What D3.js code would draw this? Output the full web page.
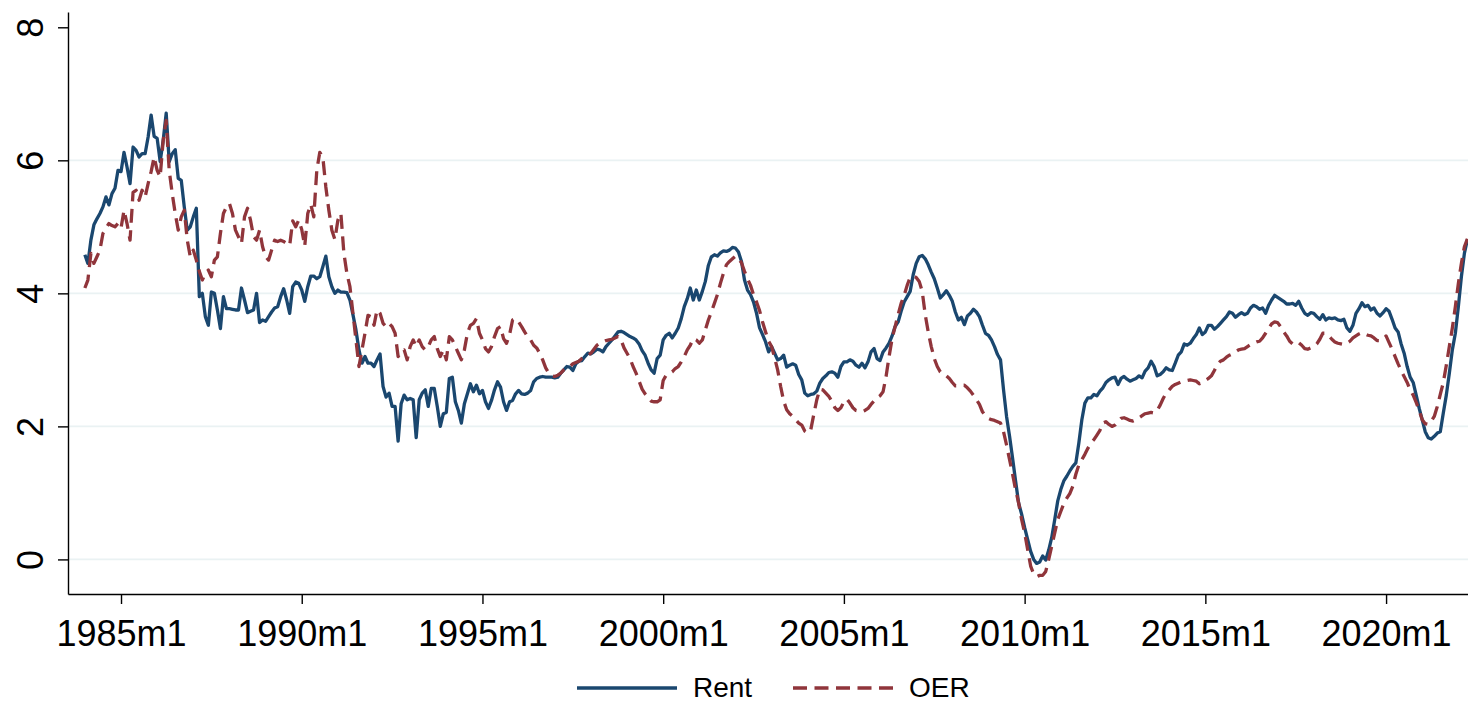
<!DOCTYPE html>
<html>
<head>
<meta charset="utf-8">
<script src="https://cdn.jsdelivr.net/npm/d3@7"></script>
<style>
  html, body { margin: 0; padding: 0; background: #fff; }
  svg { display: block; font-family: 'Liberation Sans', Arial, sans-serif; }
</style>
</head>
<body>
<svg id="chart" width="1468" height="702"></svg>
<script>
// monthly series, first value is 1984m1
const startYear = 1984

const rent = [
  4.58, 4.45, 4.8, 5.03, 5.12, 5.2, 5.3, 5.45, 5.33, 5.5, 5.58, 5.85,
  5.83, 6.12, 5.9, 5.65, 6.2, 6.15, 6.05, 6.1, 6.1, 6.35, 6.68, 6.36,
  6.33, 5.98, 6.3, 6.71, 5.98, 6.1, 6.16, 5.73, 5.7, 5.3, 4.95, 5.0,
  5.15, 5.28, 3.95, 4.0, 3.65, 3.52, 4.02, 4.0, 3.75, 3.47, 3.95, 3.77,
  3.77, 3.76, 3.75, 3.75, 4.08, 3.9, 3.71, 3.73, 3.75, 4.0, 3.56, 3.6,
  3.58, 3.65, 3.72, 3.78, 3.8, 3.95, 4.07, 3.9, 3.7, 4.1, 4.17, 4.15,
  4.05, 3.88, 4.1, 4.26, 4.26, 4.22, 4.25, 4.4, 4.56, 4.25, 4.1, 4.0,
  4.05, 4.02, 4.02, 4.01, 3.9, 3.68, 3.45, 3.15, 2.95, 3.05, 2.95, 2.95,
  2.9, 3.0, 3.09, 2.6, 2.44, 2.5, 2.3, 2.3, 1.78, 2.34, 2.47, 2.4,
  2.42, 2.4, 1.83, 2.4, 2.5, 2.55, 2.3, 2.57, 2.57, 2.3, 2.0, 2.19,
  2.21, 2.72, 2.74, 2.37, 2.24, 2.05, 2.34, 2.49, 2.64, 2.52, 2.62, 2.49,
  2.54, 2.37, 2.27, 2.39, 2.55, 2.67, 2.59, 2.37, 2.24, 2.37, 2.39, 2.49,
  2.54, 2.49, 2.48, 2.5, 2.54, 2.67, 2.72, 2.74, 2.75, 2.74, 2.74, 2.74,
  2.73, 2.74, 2.8, 2.85, 2.9, 2.89, 2.84, 2.94, 2.98, 2.99, 3.05, 3.1,
  3.09, 3.12, 3.16, 3.15, 3.12, 3.2, 3.25, 3.3, 3.36, 3.42, 3.43, 3.41,
  3.38, 3.35, 3.33, 3.3, 3.24, 3.14, 3.07, 2.95, 2.85, 2.8, 3.02, 3.07,
  3.3, 3.37, 3.4, 3.33, 3.4, 3.48, 3.62, 3.8, 3.92, 4.08, 3.9, 4.05,
  3.9, 4.03, 4.18, 4.42, 4.55, 4.58, 4.56, 4.61, 4.64, 4.63, 4.65, 4.69,
  4.68, 4.62, 4.48, 4.2, 4.05, 3.98, 3.87, 3.7, 3.48, 3.38, 3.27, 3.12,
  3.2, 3.1, 3.0, 3.02, 3.07, 2.89, 2.92, 2.94, 2.92, 2.78, 2.7, 2.5,
  2.46, 2.48, 2.49, 2.53, 2.65, 2.72, 2.76, 2.81, 2.82, 2.8, 2.74, 2.9,
  2.97, 2.97, 3.0, 2.98, 2.92, 2.89, 2.95, 2.88, 2.97, 3.12, 3.17, 3.02,
  2.99, 3.12, 3.18, 3.25, 3.36, 3.5, 3.57, 3.73, 3.87, 3.95, 4.03, 4.28,
  4.45, 4.55, 4.57, 4.52, 4.43, 4.32, 4.22, 4.08, 3.93, 3.98, 4.04, 3.97,
  3.88, 3.72, 3.6, 3.64, 3.53, 3.66, 3.7, 3.76, 3.72, 3.65, 3.52, 3.4,
  3.37, 3.3, 3.2, 3.08, 3.0, 2.55, 2.15, 1.85, 1.52, 1.18, 0.85, 0.68,
  0.48, 0.3, 0.12, 0.0, -0.06, -0.04, 0.05, -0.01, 0.14, 0.33, 0.6, 0.88,
  1.05, 1.18, 1.25, 1.33, 1.4, 1.45, 1.75, 2.1, 2.35, 2.43, 2.43, 2.48,
  2.46, 2.53, 2.58, 2.66, 2.7, 2.73, 2.74, 2.63, 2.72, 2.75, 2.71, 2.68,
  2.7, 2.72, 2.76, 2.73, 2.83, 2.88, 2.98, 2.9, 2.76, 2.78, 2.82, 2.88,
  2.85, 2.84, 2.95, 3.07, 3.12, 3.24, 3.22, 3.25, 3.32, 3.38, 3.48, 3.38,
  3.42, 3.52, 3.52, 3.46, 3.5, 3.55, 3.6, 3.65, 3.72, 3.7, 3.64, 3.68,
  3.71, 3.68, 3.7, 3.78, 3.82, 3.8, 3.76, 3.78, 3.7, 3.82, 3.9, 3.97,
  3.94, 3.91, 3.88, 3.84, 3.84, 3.85, 3.82, 3.88, 3.78, 3.7, 3.67, 3.71,
  3.7, 3.65, 3.61, 3.68, 3.6, 3.63, 3.62, 3.63, 3.6, 3.59, 3.61, 3.48,
  3.43, 3.52, 3.7, 3.77, 3.86, 3.8, 3.82, 3.75, 3.78, 3.7, 3.66, 3.71,
  3.77, 3.73, 3.61, 3.48, 3.42, 3.24, 3.1, 2.9, 2.74, 2.66, 2.47, 2.27,
  2.1, 1.92, 1.83, 1.81, 1.85, 1.9, 1.92, 2.2, 2.47, 2.8, 3.15, 3.4,
  3.8, 4.25, 4.6, 4.81
]

const oer = [
  4.08, 4.2, 4.6, 4.45, 4.55, 4.65, 4.9, 4.98, 5.05, 5.02, 5.0, 5.05,
  4.98, 5.25, 5.05, 4.8, 5.52, 5.55, 5.4, 5.55, 5.45, 5.65, 5.83, 6.05,
  5.85, 5.75, 6.3, 6.6, 5.85, 5.5, 5.2, 4.95, 5.15, 5.25, 4.8, 4.55,
  4.65, 4.5, 4.33, 4.2, 4.3, 4.35, 4.25, 4.5, 4.55, 4.9, 5.2, 5.3,
  5.35, 5.2, 4.95, 4.85, 4.75, 5.15, 5.28, 5.1, 4.85, 4.8, 4.95, 4.7,
  4.55, 4.5, 4.65, 4.8, 4.78, 4.8, 4.78, 4.75, 4.72, 5.09, 5.0, 5.1,
  4.96, 4.71, 5.2, 5.34, 5.15, 5.85, 6.12, 6.05, 5.6, 5.25, 4.95, 4.81,
  5.1, 5.2, 4.6, 4.3, 4.1, 3.7, 3.3, 2.9, 3.15, 3.4, 3.67, 3.65,
  3.52, 3.75, 3.7, 3.55, 3.5, 3.55, 3.5, 3.4, 3.05, 3.12, 3.15, 3.0,
  3.2, 3.3, 3.2, 3.3, 3.2, 3.15, 3.2, 3.3, 3.35, 3.17, 3.05, 3.15,
  3.0, 3.35, 3.3, 3.2, 3.1, 3.0, 3.15, 3.4, 3.52, 3.55, 3.62, 3.4,
  3.3, 3.17, 3.12, 3.2, 3.35, 3.47, 3.5, 3.32, 3.25, 3.38, 3.6, 3.62,
  3.57, 3.5, 3.42, 3.35, 3.3, 3.22, 3.18, 3.1, 3.0, 2.88, 2.8, 2.76,
  2.75, 2.77, 2.8, 2.85, 2.88, 2.9, 2.94, 2.96, 2.98, 3.02, 3.04, 3.07,
  3.1, 3.16, 3.22, 3.25, 3.27, 3.29, 3.3, 3.31, 3.33, 3.35, 3.3, 3.18,
  3.1, 3.02, 2.9, 2.8, 2.68, 2.56, 2.49, 2.44, 2.38, 2.37, 2.37, 2.4,
  2.69, 2.77, 2.79, 2.82, 2.87, 2.9, 2.97, 3.05, 3.15, 3.22, 3.32, 3.3,
  3.25, 3.3, 3.45, 3.6, 3.72, 3.85, 3.98, 4.15, 4.3, 4.43, 4.48, 4.52,
  4.56, 4.52, 4.46, 4.33, 4.22, 4.12, 3.98, 3.87, 3.74, 3.57, 3.42, 3.28,
  3.2, 3.03, 2.85, 2.6, 2.38, 2.25, 2.19, 2.15, 2.1, 2.05, 2.02, 1.93,
  1.9, 1.95, 2.18, 2.4, 2.56, 2.55, 2.5, 2.45, 2.38, 2.28, 2.24, 2.28,
  2.37, 2.41, 2.35, 2.28, 2.24, 2.23, 2.22, 2.24, 2.27, 2.33, 2.38, 2.43,
  2.46, 2.52, 2.75, 3.05, 3.32, 3.5, 3.68, 3.85, 3.97, 4.12, 4.24, 4.26,
  4.24, 4.18, 4.03, 3.68, 3.42, 3.2, 3.02, 2.9, 2.82, 2.79, 2.76, 2.72,
  2.66, 2.61, 2.61, 2.62, 2.62, 2.58, 2.53, 2.47, 2.4, 2.33, 2.22, 2.16,
  2.12, 2.1, 2.09, 2.07, 2.05, 1.92, 1.72, 1.5, 1.28, 1.05, 0.85, 0.6,
  0.4, 0.15, -0.1, -0.22, -0.26, -0.24, -0.24, -0.18, 0.0, 0.2, 0.4, 0.6,
  0.72, 0.84, 0.92, 0.99, 1.1, 1.28, 1.42, 1.5, 1.58, 1.67, 1.75, 1.8,
  1.87, 1.94, 2.05, 2.07, 2.03, 2.0, 2.02, 2.07, 2.12, 2.13, 2.11, 2.09,
  2.08, 2.1, 2.13, 2.16, 2.19, 2.2, 2.21, 2.2, 2.24, 2.32, 2.42, 2.5,
  2.55, 2.6, 2.63, 2.65, 2.67, 2.68, 2.69, 2.7, 2.69, 2.68, 2.64, 2.66,
  2.69, 2.72, 2.76, 2.84, 2.93, 2.98, 3.0, 3.04, 3.07, 3.09, 3.12, 3.15,
  3.16, 3.17, 3.2, 3.23, 3.25, 3.27, 3.28, 3.33, 3.4, 3.47, 3.54, 3.57,
  3.56, 3.5, 3.42, 3.36, 3.28, 3.24, 3.23, 3.26, 3.22, 3.17, 3.16, 3.18,
  3.2, 3.24, 3.31, 3.4, 3.4, 3.36, 3.31, 3.27, 3.25, 3.24, 3.23, 3.25,
  3.28, 3.33, 3.36, 3.39, 3.41, 3.39, 3.37, 3.36, 3.33, 3.29, 3.29, 3.31,
  3.36, 3.26, 3.16, 3.05, 2.94, 2.84, 2.75, 2.66, 2.55, 2.47, 2.36, 2.24,
  2.1, 2.04, 2.03, 2.08, 2.15, 2.3, 2.48, 2.66, 2.92, 3.2, 3.48, 3.8,
  4.15, 4.45, 4.7, 4.82
]

const xTickLabels = ['1985m1', '1990m1', '1995m1', '2000m1', '2005m1', '2010m1', '2015m1', '2020m1']
const yTicks = [0, 2, 4, 6, 8]
const gridTicks = [0, 2, 4, 6]
const seriesNames = ['Rent', 'OER']

const colors = { Rent: '#1a476f', OER: '#90353b' }

const svg = d3.select('#chart')

// month index: 0 = 1984m1
const monthIndex = label => {
  const [yr, m] = label.split('m').map(Number)
  return (yr - startYear) * 12 + (m - 1)
}

const x = d3.scaleLinear()
  .domain([-5.6, 459.2])
  .range([68, 1468])

const y = d3.scaleLinear()
  .domain([-0.52, 8.23])
  .range([594, 12])

// gridlines
svg.append('g')
  .selectAll('line')
  .data(gridTicks)
  .enter().append('line')
  .attr('x1', 68)
  .attr('x2', 1468)
  .attr('y1', d => y(d))
  .attr('y2', d => y(d))
  .attr('stroke', '#eaf2f3')
  .attr('stroke-width', 1.8)

const line = d3.line()
  .x((d, i) => x(i))
  .y(d => y(d))

const series = seriesNames.map(name => ({
  name,
  values: name === 'Rent' ? rent : oer,
  dash: name === 'OER' ? '14,7.5' : null
}))

svg.append('g')
  .selectAll('path')
  .data(series)
  .enter().append('path')
  .attr('d', d => line(d.values))
  .attr('fill', 'none')
  .attr('stroke', d => colors[d.name])
  .attr('stroke-width', 3.3)
  .attr('stroke-linejoin', 'round')
  .attr('stroke-dasharray', d => d.dash)

// y axis
const yAxis = svg.append('g')
  .attr('transform', 'translate(68,0)')
  .call(d3.axisLeft(y).tickValues(yTicks).tickSize(10).tickSizeOuter(0))

yAxis.selectAll('text')
  .attr('transform', 'rotate(-90)')
  .attr('x', 0)
  .attr('y', -25)
  .attr('dy', 0)
  .attr('text-anchor', 'middle')

// x axis
const xAxis = svg.append('g')
  .attr('transform', 'translate(0,594)')
  .call(d3.axisBottom(x)
    .tickValues(xTickLabels.map(monthIndex))
    .tickFormat((d, i) => xTickLabels[i])
    .tickSize(10)
    .tickSizeOuter(0))

xAxis.selectAll('text').attr('y', 26)

svg.selectAll('.domain, .tick line')
  .attr('stroke', '#000')
  .attr('stroke-width', 1.4)

svg.selectAll('.tick text')
  .attr('fill', '#000')
  .style('font-size', '36px')
  .style('font-family', "'Liberation Sans', Arial, sans-serif")

// legend
const legend = svg.append('g')
  .selectAll('g')
  .data(series)
  .enter().append('g')
  .attr('transform', (d, i) => `translate(${577 + i * 216}, 688)`)

legend.append('line')
  .attr('x1', 0)
  .attr('x2', 100)
  .attr('stroke', d => colors[d.name])
  .attr('stroke-width', 3.3)
  .attr('stroke-dasharray', d => d.dash)

legend.append('text')
  .attr('x', 116)
  .attr('y', 9)
  .style('font-size', '28px')
  .text(d => d.name)
</script>
</body>
</html>
